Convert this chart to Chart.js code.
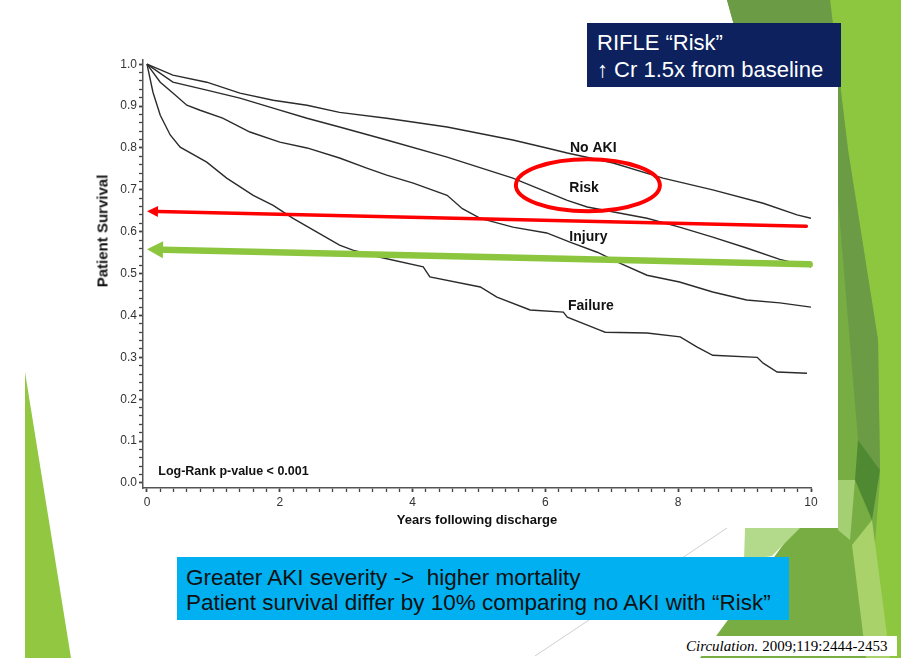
<!DOCTYPE html>
<html>
<head>
<meta charset="utf-8">
<script src="https://cdn.jsdelivr.net/npm/chart.js@4.4.1/dist/chart.umd.min.js"></script>
<style>
html,body{margin:0;padding:0;background:#fff;width:901px;height:658px;overflow:hidden;font-family:"Liberation Sans",Arial,sans-serif;}
#stage{position:relative;width:901px;height:658px;}
#deco{position:absolute;left:0;top:0;z-index:0;}
#paper{position:absolute;left:75px;top:40px;width:763px;height:488px;background:#fff;z-index:1;}
#c{position:absolute;left:0;top:0;z-index:2;}
#ytitle{position:absolute;left:102px;top:231px;transform:translate(-50%,-50%) rotate(-90deg);font-weight:bold;font-size:15px;color:#111;white-space:nowrap;z-index:3;}
#navy{position:absolute;left:587px;top:23px;width:254px;height:64px;background:#0c215e;color:#fff;font-size:22px;line-height:27px;box-sizing:border-box;padding:6px 0 0 10px;z-index:3;white-space:nowrap;}
#cyan{position:absolute;left:177px;top:557px;width:612px;height:63px;background:#00b0f0;color:#111;font-size:22.5px;line-height:25px;box-sizing:border-box;padding:8px 0 0 9px;z-index:3;white-space:nowrap;}
#cite{position:absolute;left:684px;top:636px;width:213px;height:20px;background:#fff;color:#000;font-family:"Liberation Serif","Times New Roman",serif;font-size:15px;line-height:20px;padding-left:2px;box-sizing:border-box;z-index:3;white-space:nowrap;}
</style>
</head>
<body>
<div id="stage">
<svg id="deco" width="901" height="658" viewBox="0 0 901 658">
  <polygon points="25,372 25,658 71,658" fill="#92c841"/>
  <polygon points="727,0 901,0 901,658 700,658 838,470 760,120" fill="#78ad44"/>
  <polygon points="830,0 901,0 901,658 866,658 880,480 878,340 848,150" fill="#8dc63f"/>
  <polygon points="727,0 830,0 848,150 878,340 880,470 858,440 838,200 760,120" fill="#6b9b45"/>
  <polygon points="858,440 880,470 872,520 855,480" fill="#4f8a33"/>
  <polygon points="838,480 855,480 850,540 838,530" fill="#a4cf72"/>
  <polygon points="745,528 800,528 772,556 744,560" fill="#b3d98a"/>
  <polygon points="852,545 872,520 890,658 866,658" fill="#a9d36a"/>
  <line x1="535" y1="656" x2="727" y2="528" stroke="#cfcfcf" stroke-width="1"/>
</svg>
<div id="paper"></div>
<canvas id="c" width="901" height="658"></canvas>
<div id="ytitle">Patient Survival</div>
<div id="navy">RIFLE “Risk”<br>↑ Cr 1.5x from baseline</div>
<div id="cyan">Greater AKI severity -&gt;&nbsp; higher mortality<br>Patient survival differ by 10% comparing no AKI with “Risk”</div>
<div id="cite"><i>Circulation.</i> 2009;119:2444-2453</div>
</div>
<script>
// ---- data (years following discharge, patient survival) ----
const seriesNames = ['No AKI', 'Risk', 'Injury', 'Failure'];

const noAkiYears    = [0, 0.39, 0.9, 1.4, 1.9, 2.41, 2.9, 3.61, 4.52, 5.51, 6.02, 6.33, 7.02, 7.77, 8.52, 9.28, 9.79, 10.0];
const noAkiSurvival = [1.0, 0.974, 0.957, 0.931, 0.914, 0.902, 0.885, 0.871, 0.85, 0.819, 0.80, 0.788, 0.764, 0.728, 0.70, 0.668, 0.64, 0.632];

const riskYears    = [0, 0.39, 0.9, 1.4, 1.9, 2.41, 2.9, 3.61, 4.52, 5.51, 6.33, 6.63, 7.53, 8.02, 8.52, 9.03, 9.53, 10.0];
const riskSurvival = [1.0, 0.957, 0.938, 0.919, 0.895, 0.871, 0.85, 0.819, 0.778, 0.728, 0.675, 0.659, 0.632, 0.611, 0.587, 0.561, 0.534, 0.516];

const injuryYears    = [0, 0.2, 0.39, 0.6, 0.8, 1.14, 1.55, 2.0, 2.41, 2.9, 3.31, 3.61, 4.01, 4.52, 4.75, 5.02, 5.51, 6.02, 6.37, 6.78, 7.12, 7.53, 8.02, 8.52, 9.03, 9.53, 10.0];
const injurySurvival = [1.0, 0.957, 0.931, 0.902, 0.89, 0.871, 0.838, 0.814, 0.80, 0.776, 0.752, 0.735, 0.716, 0.687, 0.655, 0.632, 0.611, 0.597, 0.575, 0.551, 0.525, 0.496, 0.48, 0.456, 0.437, 0.43, 0.42];

const failureYears    = [0, 0.09, 0.2, 0.35, 0.5, 0.9, 1.2, 1.6, 1.9, 2.2, 2.56, 2.9, 3.1, 3.51, 4.16, 4.26, 5.02, 5.27, 5.77, 6.27, 6.33, 6.82, 6.9, 7.53, 8.03, 8.28, 8.52, 9.19, 9.28, 9.49, 9.94];
const failureSurvival = [1.0, 0.933, 0.878, 0.831, 0.802, 0.766, 0.728, 0.687, 0.663, 0.632, 0.599, 0.568, 0.556, 0.539, 0.516, 0.492, 0.468, 0.444, 0.413, 0.408, 0.396, 0.365, 0.36, 0.358, 0.349, 0.325, 0.305, 0.30, 0.286, 0.265, 0.262];

const xTickLabels = ['0', '2', '4', '6', '8', '10'];
const yTickLabels = ['0.0', '0.1', '0.2', '0.3', '0.4', '0.5', '0.6', '0.7', '0.8', '0.9', '1.0'];

const pValueText = 'Log-Rank p-value < 0.001';
const xTitle = 'Years following discharge';

// ---- build ----
const toPts = (xs, ys) => xs.map((x, i) => ({x: x, y: ys[i]}));
const allSeries = [
  toPts(noAkiYears, noAkiSurvival),
  toPts(riskYears, riskSurvival),
  toPts(injuryYears, injurySurvival),
  toPts(failureYears, failureSurvival)
];

const xMajor = xTickLabels.map(Number);
const yMajor = yTickLabels.map(Number);
const xMinorStep = 0.2, yMinorStep = 0.02;
function tickList(maxV, step) {
  const out = [];
  const n = Math.round(maxV / step);
  for (let i = 0; i <= n; i++) out.push(+(i * step).toFixed(4));
  return out;
}
const isMajor = (v, majors) => majors.some(m => Math.abs(m - v) < 1e-6);

const FONT = '"Liberation Sans", Arial, sans-serif';

const annotationPlugin = {
  id: 'kmAnnotations',
  afterDatasetsDraw(chart) {
    const ctx = chart.ctx, xs = chart.scales.x, ys = chart.scales.y;
    const px = v => xs.getPixelForValue(v), py = v => ys.getPixelForValue(v);
    ctx.save();
    // curve labels
    ctx.fillStyle = '#111';
    ctx.font = 'bold 14px ' + FONT;
    ctx.textBaseline = 'alphabetic';
    ctx.textAlign = 'left';
    const labelPos = [[6.37, 0.79], [6.36, 0.694], [6.36, 0.578], [6.34, 0.413]];
    seriesNames.forEach((n, i) => ctx.fillText(n, px(labelPos[i][0]), py(labelPos[i][1])));
    // p-value
    ctx.font = 'bold 12.5px ' + FONT;
    ctx.fillText(pValueText, px(0.17), py(0.018));
    // red ellipse
    ctx.strokeStyle = '#ff0000';
    ctx.lineWidth = 4;
    ctx.beginPath();
    ctx.ellipse(px(6.64), py(0.711), 72, 26, 0, 0, Math.PI * 2);
    ctx.stroke();
    // arrows
    function arrow(x0, y0, x1, y1, color, w, hl, hw) {
      const ax = px(x0), ay = py(y0), bx = px(x1), by = py(y1);
      const ang = Math.atan2(by - ay, bx - ax);
      const cx = bx - Math.cos(ang) * hl, cy = by - Math.sin(ang) * hl;
      ctx.strokeStyle = color; ctx.fillStyle = color;
      ctx.lineWidth = w; ctx.lineCap = 'round';
      ctx.beginPath(); ctx.moveTo(ax, ay); ctx.lineTo(cx, cy); ctx.stroke();
      ctx.beginPath();
      ctx.moveTo(bx, by);
      ctx.lineTo(cx + Math.sin(ang) * hw, cy - Math.cos(ang) * hw);
      ctx.lineTo(cx - Math.sin(ang) * hw, cy + Math.cos(ang) * hw);
      ctx.closePath(); ctx.fill();
    }
    arrow(9.93, 0.613, 0.0, 0.649, '#ff0000', 3.5, 11, 5.5);
    arrow(9.98, 0.522, 0.0, 0.558, '#8cc63f', 6.5, 16, 8.5);
    ctx.restore();
  }
};

new Chart(document.getElementById('c'), {
  type: 'line',
  data: {
    datasets: allSeries.map((pts, i) => ({
      label: seriesNames[i],
      data: pts,
      borderColor: '#2b2b2b',
      borderWidth: 1.4,
      pointRadius: 0,
      fill: false,
      tension: 0
    }))
  },
  options: {
    responsive: false,
    animation: false,
    layout: {padding: {left: 90, right: 90, top: 60, bottom: 130}},
    plugins: {legend: {display: false}, tooltip: {enabled: false}, title: {display: false}},
    scales: {
      x: {
        type: 'linear',
        min: -0.06, max: 10,
        afterBuildTicks: s => { s.ticks = tickList(10, xMinorStep).map(v => ({value: v})); },
        afterFit: s => { s.height = 40; },
        ticks: {
          autoSkip: false, maxRotation: 0, padding: 3,
          color: '#333', font: {family: FONT, size: 12},
          callback: v => isMajor(v, xMajor) ? xTickLabels[xMajor.findIndex(m => Math.abs(m - v) < 1e-6)] : ''
        },
        grid: {drawOnChartArea: false, tickLength: 4, tickColor: '#444',
               tickWidth: c => (c.tick && isMajor(c.tick.value, xMajor)) ? 1.8 : 1.3},
        border: {display: true, color: '#555', width: 1.5},
        title: {display: true, text: xTitle, color: '#111', font: {family: FONT, size: 13, weight: 'bold'}, padding: {top: 0, bottom: 0}}
      },
      y: {
        type: 'linear',
        min: -0.012, max: 1.01,
        afterBuildTicks: s => { s.ticks = tickList(1, yMinorStep).map(v => ({value: v})); },
        afterFit: s => { s.width = 53; },
        ticks: {
          autoSkip: false, padding: 2,
          color: '#333', font: {family: FONT, size: 12},
          callback: v => isMajor(v, yMajor) ? yTickLabels[yMajor.findIndex(m => Math.abs(m - v) < 1e-6)] : ''
        },
        grid: {drawOnChartArea: false, tickLength: 4, tickColor: '#444',
               tickWidth: c => (c.tick && isMajor(c.tick.value, yMajor)) ? 1.8 : 1.3},
        border: {display: true, color: '#555', width: 1.5},
        title: {display: false}
      }
    }
  },
  plugins: [annotationPlugin]
});
</script>
</body>
</html>
